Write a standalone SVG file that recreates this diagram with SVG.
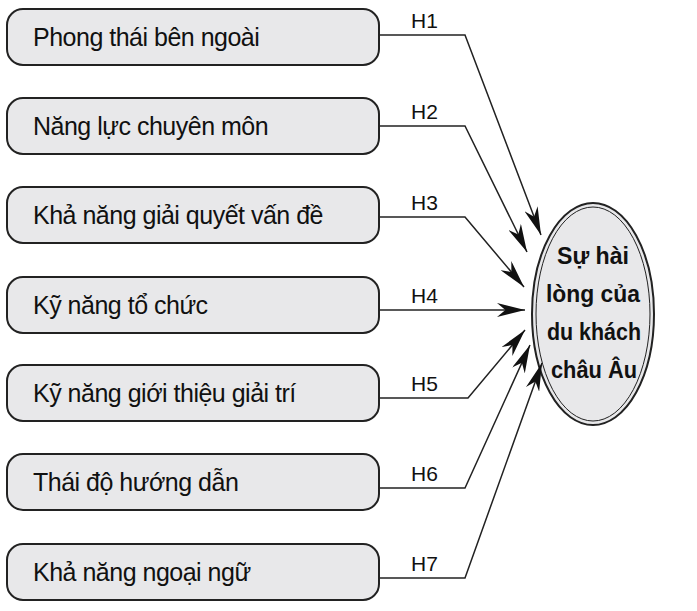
<svg xmlns="http://www.w3.org/2000/svg" width="697" height="611" viewBox="0 0 697 611">
<style>
.box{fill:#e8e8ea;stroke:#222;stroke-width:2}
.t{font-family:"Liberation Sans",Arial,sans-serif;font-size:25px;fill:#111;letter-spacing:-0.5px}
.h{font-family:"Liberation Sans",Arial,sans-serif;font-size:21px;fill:#111}
.c{fill:none;stroke:#222;stroke-width:1.5}
.e{font-family:"Liberation Sans",Arial,sans-serif;font-size:24px;font-weight:bold;fill:#111}
</style>
<defs><marker id="b" viewBox="0 0 10 10" refX="10" refY="5" markerWidth="28" markerHeight="14" markerUnits="userSpaceOnUse" orient="auto" preserveAspectRatio="none"><path d="M0,0L10,5L0,10L3,5Z" fill="#111"/></marker></defs>
<g id="n1"><rect class="box" x="7" y="9" width="372" height="56" rx="16"/><text class="t" x="33" y="46">Phong thái bên ngoài</text></g>
<g id="n2"><rect class="box" x="7" y="98" width="372" height="56" rx="16"/><text class="t" x="33" y="135">Năng lực chuyên môn</text></g>
<g id="n3"><rect class="box" x="7" y="187" width="372" height="56" rx="16"/><text class="t" x="33" y="224">Khả năng giải quyết vấn đề</text></g>
<g id="n4"><rect class="box" x="7" y="277" width="372" height="56" rx="16"/><text class="t" x="33" y="314">Kỹ năng tổ chức</text></g>
<g id="n5"><rect class="box" x="7" y="365" width="372" height="56" rx="16"/><text class="t" x="33" y="402">Kỹ năng giới thiệu giải trí</text></g>
<g id="n6"><rect class="box" x="7" y="454" width="372" height="56" rx="16"/><text class="t" x="33" y="491">Thái độ hướng dẫn</text></g>
<g id="n7"><rect class="box" x="7" y="544" width="372" height="56" rx="16"/><text class="t" x="33" y="581">Khả năng ngoại ngữ</text></g>
<g id="target"><ellipse cx="593" cy="314" rx="61" ry="111" fill="#e8e8ea" stroke="#222" stroke-width="2"/><ellipse cx="593" cy="314" rx="57" ry="107" fill="none" stroke="#222" stroke-width="1"/>
<text class="e" text-anchor="middle" x="593" y="264" textLength="72" lengthAdjust="spacingAndGlyphs">Sự hài</text><text class="e" text-anchor="middle" x="593" y="302" textLength="94" lengthAdjust="spacingAndGlyphs">lòng của</text><text class="e" text-anchor="middle" x="594" y="340" textLength="94" lengthAdjust="spacingAndGlyphs">du khách</text><text class="e" text-anchor="middle" x="594" y="378" textLength="86" lengthAdjust="spacingAndGlyphs">châu Âu</text></g>
<g id="connectors">
<path class="c" marker-end="url(#b)" d="M379,35H465L541,235"/>
<path class="c" marker-end="url(#b)" d="M379,126H465L527,252"/>
<path class="c" marker-end="url(#b)" d="M379,217H465L524,287"/>
<path class="c" marker-end="url(#b)" d="M379,310H525"/>
<path class="c" marker-end="url(#b)" d="M379,398H468L525,330"/>
<path class="c" marker-end="url(#b)" d="M379,488H465L530,345"/>
<path class="c" marker-end="url(#b)" d="M379,578H465L542,363"/>
<text class="h" x="411" y="28">H1</text><text class="h" x="411" y="119">H2</text><text class="h" x="411" y="210">H3</text><text class="h" x="411" y="303">H4</text><text class="h" x="411" y="391">H5</text><text class="h" x="411" y="481">H6</text><text class="h" x="411" y="571">H7</text>
</g>
</svg>
